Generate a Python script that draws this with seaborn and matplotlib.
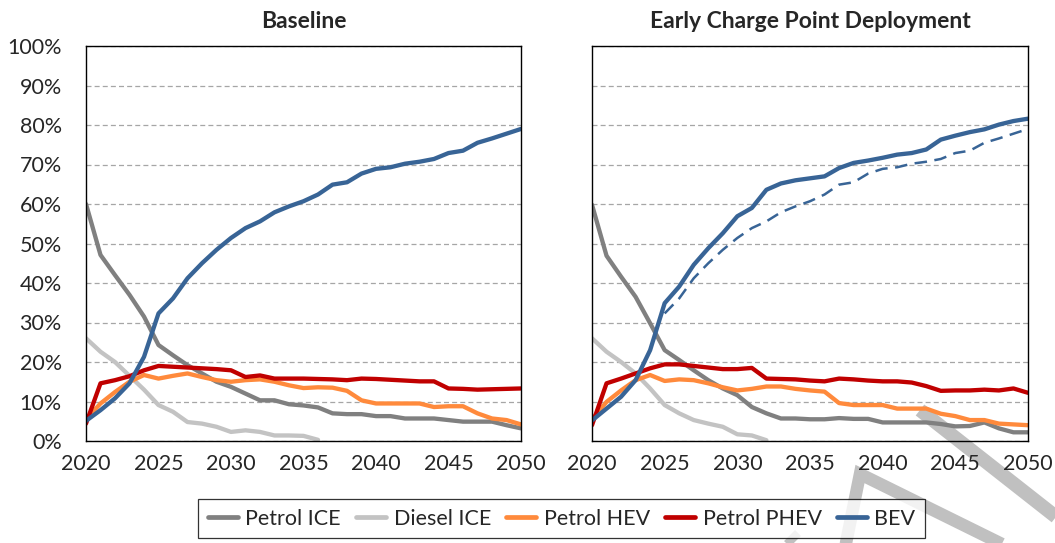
import numpy as np
import pandas as pd
import matplotlib
matplotlib.use("Agg")
import matplotlib.pyplot as plt
from matplotlib.lines import Line2D
import seaborn as sns

years = list(range(2020, 2051))
techs = ["Petrol ICE", "Diesel ICE", "Petrol HEV", "Petrol PHEV", "BEV"]
nan = np.nan

# Baseline scenario (% of sales)
base_petrol_ice = [60, 47.1, 42, 37, 31.5, 24.3, 21.7, 19.2, 17.1, 15, 13.7, 12, 10.3, 10.3, 9.3, 9.0,
                   8.5, 7.0, 6.8, 6.8, 6.3, 6.3, 5.7, 5.7, 5.7, 5.3, 4.9, 4.9, 4.9, 4.0, 3.2]
base_diesel_ice = [26, 22.6, 20, 16.5, 13, 9.1, 7.4, 4.8, 4.4, 3.6, 2.3, 2.7, 2.3, 1.4, 1.4, 1.3,
                   0.3] + [nan] * 14
base_petrol_hev = [5.5, 9.5, 12.4, 15, 16.7, 15.8, 16.5, 17.1, 16.2, 15.4, 15, 15.4, 15.6, 15, 14.1, 13.4,
                   13.6, 13.5, 12.7, 10.3, 9.5, 9.5, 9.5, 9.5, 8.6, 8.8, 8.8, 7.0, 5.7, 5.3, 4.2]
base_petrol_phev = [4.4, 14.6, 15.4, 16.4, 17.9, 19.0, 18.8, 18.6, 18.4, 18.2, 17.9, 16.2, 16.6, 15.8, 15.8, 15.8,
                    15.7, 15.6, 15.4, 15.8, 15.7, 15.5, 15.3, 15.1, 15.1, 13.3, 13.2, 13.0, 13.1, 13.2, 13.3]
base_bev = [5.1, 7.8, 10.8, 14.6, 21.3, 32.3, 36.1, 41.2, 45.0, 48.4, 51.4, 53.9, 55.6, 57.9, 59.4, 60.7,
            62.4, 64.9, 65.5, 67.7, 68.9, 69.3, 70.2, 70.7, 71.4, 72.9, 73.5, 75.5, 76.6, 77.8, 79.0]

# Early Charge Point Deployment scenario (% of sales)
early_petrol_ice = [59.8, 46.9, 41.6, 36.5, 29.8, 23.0, 20.5, 17.9, 15.4, 13.3, 11.6, 8.6, 7.0, 5.7, 5.7, 5.5,
                    5.5, 5.8, 5.6, 5.6, 4.7, 4.7, 4.7, 4.7, 4.3, 3.7, 3.8, 4.7, 3.2, 2.2, 2.2]
early_diesel_ice = [26, 22.6, 20, 17.1, 13.3, 9.1, 7.0, 5.3, 4.4, 3.6, 1.7, 1.4, 0.2] + [nan] * 18
early_petrol_hev = [5.5, 9.9, 12.8, 15.4, 16.7, 15.2, 15.6, 15.4, 14.6, 13.6, 12.8, 13.2, 13.8, 13.8, 13.2, 12.8,
                    12.5, 9.6, 9.1, 9.1, 9.1, 8.2, 8.2, 8.2, 6.9, 6.3, 5.3, 5.3, 4.4, 4.2, 4.0]
early_petrol_phev = [4.0, 14.6, 15.8, 17.1, 18.4, 19.4, 19.4, 19.0, 18.6, 18.2, 18.2, 18.5, 15.8, 15.7, 15.6, 15.3,
                     15.1, 15.8, 15.6, 15.3, 15.1, 15.1, 14.8, 13.9, 12.7, 12.8, 12.8, 13.0, 12.8, 13.3, 12.2]
early_bev = [5.2, 8.2, 11.2, 15.4, 23.0, 34.9, 39.1, 44.6, 48.8, 52.6, 56.9, 59.0, 63.6, 65.2, 66.0, 66.5,
             67.0, 69.1, 70.4, 71.0, 71.7, 72.5, 72.9, 73.8, 76.3, 77.3, 78.2, 78.9, 80.1, 81.0, 81.6]

panel_titles = ["Baseline", "Early Charge Point Deployment"]
y_ticks = list(range(0, 101, 10))
x_ticks = list(range(2020, 2051, 5))
comparison_start = 2025

palette = {"Petrol ICE": "#808080", "Diesel ICE": "#c3c3c3", "Petrol HEV": "#ff8a3c",
           "Petrol PHEV": "#c00000", "BEV": "#386496"}


def long_df(series):
    rows = []
    for t, vals in zip(techs, series):
        for yr, v in zip(years, vals):
            rows.append({"year": yr, "share": v, "tech": t})
    return pd.DataFrame(rows).dropna()


df_base = long_df([base_petrol_ice, base_diesel_ice, base_petrol_hev, base_petrol_phev, base_bev])
df_early = long_df([early_petrol_ice, early_diesel_ice, early_petrol_hev, early_petrol_phev, early_bev])
df_dash = pd.DataFrame({"year": years, "share": base_bev})
df_dash = df_dash[df_dash["year"] >= comparison_start]

sns.set_theme(style="white")
plt.rcParams["font.family"] = ["Lato", "DejaVu Sans"]

W, H = 1055, 543
TICK_FS = 15.5
LEG_FS = 15.5
fig = plt.figure(figsize=(W / 100, H / 100), dpi=100)
fig.patch.set_facecolor("white")

ax1 = fig.add_axes([86 / W, 1 - 441 / H, 435 / W, 395 / H])
ax2 = fig.add_axes([592 / W, 1 - 441 / H, 436 / W, 395 / H])

for ax, df, title in [(ax1, df_base, panel_titles[0]), (ax2, df_early, panel_titles[1])]:
    ax.set_facecolor("none")
    sns.lineplot(data=df, x="year", y="share", hue="tech", hue_order=techs, palette=palette,
                 linewidth=3.1, ax=ax, legend=False, errorbar=None, sort=True)
    for ln in ax.lines:
        ln.set_solid_joinstyle("round")
    ax.set_xlim(2020, 2050)
    ax.set_ylim(0, 100)
    ax.set_yticks(y_ticks)
    ax.set_xticks(x_ticks)
    ax.set_xticklabels([str(x) for x in x_ticks], fontsize=TICK_FS)
    ax.set_xlabel("")
    ax.set_ylabel("")
    ax.yaxis.grid(True, color="#a6a6a6", linestyle=(0, (4, 2.5)), linewidth=0.9)
    ax.set_axisbelow(True)
    for s in ax.spines.values():
        s.set_visible(True)
        s.set_color("black")
        s.set_linewidth(1.0)
    ax.tick_params(axis="y", direction="out", length=5.5, width=1, color="black", pad=12)
    ax.tick_params(axis="x", length=0, pad=9)
    ax.set_title(title, fontsize=16.5, fontweight="bold", pad=13)

ax1.set_yticklabels([f"{v}%" for v in y_ticks], fontsize=TICK_FS)
ax2.set_yticklabels([])

sns.lineplot(data=df_dash, x="year", y="share", color=palette["BEV"], linewidth=1.8,
             linestyle=(0, (5, 3)), ax=ax2, legend=False, errorbar=None)
ax2.set_xlabel("")
ax2.set_ylabel("")

handles = [Line2D([0], [0], color=palette[t], linewidth=3.4) for t in techs]
leg = fig.legend(handles, techs, loc="upper left", bbox_to_anchor=(198 / W, 1 - 499 / H),
                 ncol=5, fontsize=LEG_FS, frameon=True, fancybox=False, edgecolor="black",
                 handlelength=1.4, handletextpad=0.35, columnspacing=0.7,
                 borderpad=0.45, borderaxespad=0)
leg.get_frame().set_linewidth(0.9)

# faint watermark strokes at lower right
wm = "#c0c0c0"
def fpt(x, y):
    return x / W, 1 - y / H
for pts, lw in [([(920, 410), (1060, 520)], 10),
                ([(845, 548), (860, 474), (1010, 548)], 9),
                ([(783, 548), (798, 533)], 6)]:
    xs, ys = zip(*[fpt(x, y) for x, y in pts])
    fig.add_artist(Line2D(xs, ys, color=wm, linewidth=lw, transform=fig.transFigure,
                          zorder=-1, solid_capstyle="butt", solid_joinstyle="miter"))

fig.savefig("out.png", dpi=100, facecolor="white")
